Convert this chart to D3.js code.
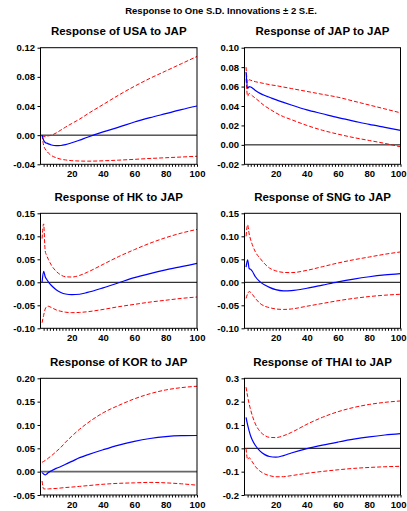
<!DOCTYPE html>
<meta charset="utf-8">
<style>
body { margin: 0; background: #fff; }
text { font-family: "Liberation Sans", Arial, sans-serif; font-weight: bold; fill: #000; }
.frame { fill: none; stroke: #000; stroke-width: 1; }
.tick line { stroke: #000; }
.tick text { font-size: 9.5px; }
.ptitle { font-size: 11.5px; }
.mtitle { font-size: 9.5px; }
.irf { fill: none; stroke: #0000ff; stroke-width: 1.2; }
.band { fill: none; stroke: #ff0000; stroke-width: 1; stroke-dasharray: 4,2; }
</style>
<svg width="407" height="511"></svg>
<script src="https://cdn.jsdelivr.net/npm/d3@7"></script>
<script>

var steps = [1, 2, 3, 4, 5, 7, 10, 13, 16, 20, 25, 30, 40, 50, 60, 70, 80, 90, 100];

var panelNames = ["USA", "JAP", "HK", "SNG", "KOR", "THAI"];

var usaResp  = [0, -0.007, -0.010, -0.011, -0.012, -0.0135, -0.0145, -0.0142, -0.013, -0.0105, -0.0068, -0.0028, 0.0045, 0.011, 0.018, 0.024, 0.0295, 0.035, 0.040];
var usaUpper = [0, -0.002, -0.002, -0.0015, -0.001, 0.000, 0.003, 0.007, 0.011, 0.016, 0.022, 0.029, 0.042, 0.055, 0.067, 0.078, 0.088, 0.098, 0.108];
var usaLower = [0, -0.014, -0.019, -0.022, -0.0245, -0.028, -0.031, -0.033, -0.034, -0.035, -0.0355, -0.0357, -0.0352, -0.0343, -0.0332, -0.032, -0.031, -0.030, -0.029];

var japResp  = [0.075, 0.058, 0.060, 0.0595, 0.0585, 0.056, 0.053, 0.0508, 0.049, 0.0465, 0.0437, 0.041, 0.036, 0.032, 0.028, 0.0245, 0.021, 0.018, 0.015];
var japUpper = [0.080, 0.064, 0.067, 0.0665, 0.066, 0.065, 0.064, 0.063, 0.062, 0.061, 0.0595, 0.058, 0.055, 0.052, 0.049, 0.045, 0.041, 0.037, 0.033];
var japLower = [0.068, 0.050, 0.053, 0.052, 0.0505, 0.048, 0.044, 0.040, 0.037, 0.033, 0.029, 0.026, 0.020, 0.015, 0.011, 0.0075, 0.0045, 0.0015, -0.002];

var hkResp  = [0, 0.024, 0.012, 0.006, 0.001, -0.007, -0.016, -0.022, -0.0255, -0.027, -0.026, -0.022, -0.012, -0.001, 0.010, 0.019, 0.027, 0.034, 0.041];
var hkUpper = [0.095, 0.127, 0.068, 0.058, 0.050, 0.037, 0.024, 0.016, 0.012, 0.0115, 0.015, 0.022, 0.039, 0.056, 0.071, 0.085, 0.097, 0.107, 0.115];
var hkLower = [-0.088, -0.072, -0.058, -0.053, -0.052, -0.055, -0.060, -0.063, -0.065, -0.066, -0.0655, -0.064, -0.059, -0.053, -0.048, -0.043, -0.039, -0.035, -0.032];

var sngResp  = [0.033, 0.049, 0.030, 0.028, 0.024, 0.012, 0.001, -0.006, -0.011, -0.016, -0.0185, -0.018, -0.013, -0.006, 0.001, 0.007, 0.012, 0.016, 0.019];
var sngUpper = [0.100, 0.125, 0.105, 0.092, 0.082, 0.066, 0.052, 0.040, 0.031, 0.025, 0.0215, 0.021, 0.026, 0.034, 0.042, 0.049, 0.055, 0.061, 0.066];
var sngLower = [-0.035, -0.025, -0.020, -0.022, -0.026, -0.035, -0.046, -0.052, -0.055, -0.058, -0.059, -0.058, -0.052, -0.046, -0.040, -0.035, -0.031, -0.028, -0.026];

var korResp  = [-0.002, -0.005, -0.007, -0.005, -0.002, 0.002, 0.007, 0.011, 0.016, 0.022, 0.030, 0.036, 0.047, 0.057, 0.065, 0.071, 0.075, 0.077, 0.0775];
var korUpper = [0.020, 0.022, 0.024, 0.026, 0.029, 0.034, 0.043, 0.052, 0.063, 0.076, 0.091, 0.104, 0.126, 0.142, 0.156, 0.167, 0.175, 0.180, 0.183];
var korLower = [-0.020, -0.037, -0.037, -0.037, -0.037, -0.0365, -0.036, -0.035, -0.034, -0.033, -0.0315, -0.030, -0.027, -0.025, -0.024, -0.023, -0.024, -0.026, -0.029];

var thaiResp  = [0.133, 0.100, 0.074, 0.052, 0.036, 0.012, -0.012, -0.027, -0.035, -0.038, -0.031, -0.020, -0.001, 0.014, 0.027, 0.039, 0.049, 0.057, 0.063];
var thaiUpper = [0.262, 0.222, 0.190, 0.163, 0.140, 0.104, 0.072, 0.055, 0.047, 0.046, 0.054, 0.068, 0.103, 0.133, 0.157, 0.175, 0.188, 0.197, 0.203];
var thaiLower = [0, -0.048, -0.040, -0.048, -0.058, -0.078, -0.098, -0.110, -0.117, -0.122, -0.1215, -0.117, -0.107, -0.099, -0.092, -0.086, -0.082, -0.079, -0.077];

// y tick labels per panel
var usaTicks  = [-0.04, 0.00, 0.04, 0.08, 0.12];
var japTicks  = [-0.02, 0.00, 0.02, 0.04, 0.06, 0.08, 0.10];
var hkTicks   = [-0.10, -0.05, 0.00, 0.05, 0.10, 0.15];
var sngTicks  = [-0.10, -0.05, 0.00, 0.05, 0.10, 0.15];
var korTicks  = [-0.05, 0.00, 0.05, 0.10, 0.15, 0.20];
var thaiTicks = [-0.2, -0.1, 0.0, 0.1, 0.2, 0.3];

var xLabels = [20, 40, 60, 80, 100];

var panels = [
  {name: "USA",  resp: usaResp,  up: usaUpper,  lo: usaLower,  ticks: usaTicks,  dec: 2},
  {name: "JAP",  resp: japResp,  up: japUpper,  lo: japLower,  ticks: japTicks,  dec: 2},
  {name: "HK",   resp: hkResp,   up: hkUpper,   lo: hkLower,   ticks: hkTicks,   dec: 2},
  {name: "SNG",  resp: sngResp,  up: sngUpper,  lo: sngLower,  ticks: sngTicks,  dec: 2},
  {name: "KOR",  resp: korResp,  up: korUpper,  lo: korLower,  ticks: korTicks,  dec: 2},
  {name: "THAI", resp: thaiResp, up: thaiUpper, lo: thaiLower, ticks: thaiTicks, dec: 1}
];

var svg = d3.select("svg");

// plot box edges
var cols = [[40.5, 197], [244.5, 400.5]];
var rows = [[47.7, 164.3], [213.3, 328.3], [378.3, 495]];

svg.append("text")
    .attr("class", "mtitle")
    .attr("x", 221)
    .attr("y", 14)
    .attr("text-anchor", "middle")
    .text("Response to One S.D. Innovations \u00b1 2 S.E.");

panels.forEach(function(p, i) {
  var c = cols[i % 2], r = rows[Math.floor(i / 2)];

  var x = d3.scaleLinear().domain([0, 100]).range(c);
  var y = d3.scaleLinear().domain(d3.extent(p.ticks)).range([r[1], r[0]]);

  var g = svg.append("g");

  g.append("text")
      .attr("class", "ptitle")
      .attr("x", (c[0] + c[1]) / 2)
      .attr("y", r[0] - 12.5)
      .attr("text-anchor", "middle")
      .text("Response of " + p.name + " to JAP");

  // zero line
  g.append("line")
      .attr("x1", c[0]).attr("x2", c[1])
      .attr("y1", y(0)).attr("y2", y(0))
      .attr("stroke", p.name == "KOR" ? "#666" : "#000")
      .attr("stroke-width", p.name == "KOR" ? 1.6 : 1);

  var line = d3.line()
      .x(function(d, k) { return x(steps[k]); })
      .y(function(d) { return y(d); })
      .curve(d3.curveMonotoneX);

  g.append("path").attr("class", "band").attr("d", line(p.up));
  g.append("path").attr("class", "band").attr("d", line(p.lo));
  g.append("path").attr("class", "irf").attr("d", line(p.resp));

  g.append("rect")
      .attr("class", "frame")
      .attr("x", c[0]).attr("y", r[0])
      .attr("width", c[1] - c[0]).attr("height", r[1] - r[0]);

  var yAxis = d3.axisLeft(y)
      .tickValues(p.ticks)
      .tickSize(3)
      .tickPadding(2.5)
      .tickFormat(function(v) { return v.toFixed(p.dec); });
  g.append("g")
      .attr("transform", "translate(" + c[0] + ",0)")
      .call(yAxis)
      .call(function(a) { a.select(".domain").remove(); });

  var xAxis = d3.axisBottom(x)
      .tickValues(d3.range(2, 101, 2))
      .tickSize(2.5)
      .tickPadding(3.5)
      .tickFormat(function(v) { return xLabels.indexOf(v) >= 0 ? v : ""; });
  var xg = g.append("g")
      .attr("transform", "translate(0," + r[1] + ")")
      .call(xAxis)
      .call(function(a) { a.select(".domain").remove(); });

  // keep the last label inside the window on the right column
  if (i % 2 == 1) {
    xg.selectAll(".tick text")
        .filter(function(v) { return v == 100; })
        .attr("text-anchor", "end")
        .attr("dx", 5.5);
  }
});

</script>
